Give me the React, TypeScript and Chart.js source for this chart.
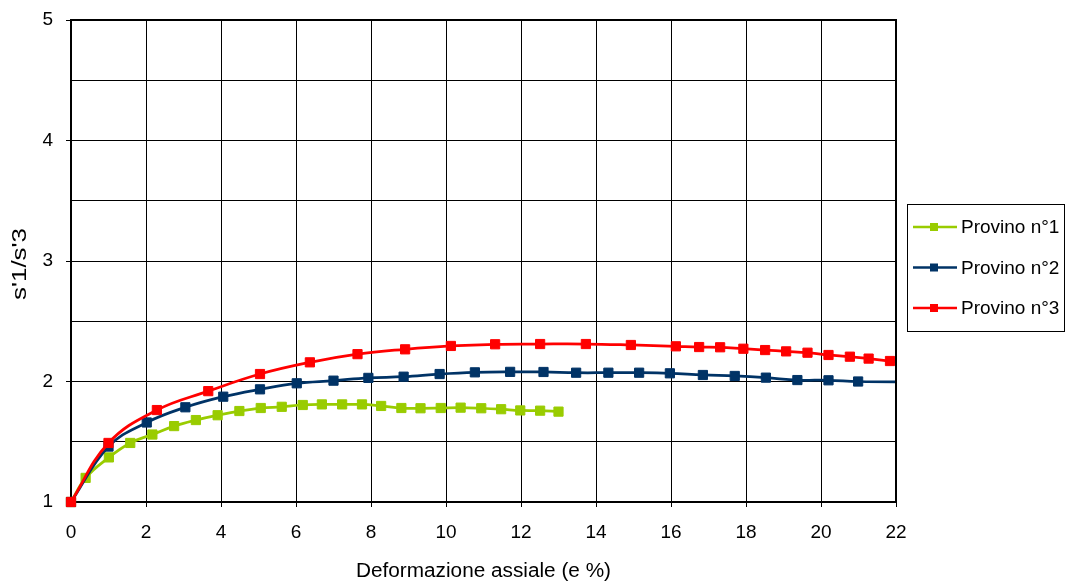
import React, { useEffect, useRef } from "react";
import { Chart, registerables } from "chart.js";

Chart.register(...registerables);

const seriesNames = ["Provino n°1", "Provino n°2", "Provino n°3"];
const seriesColors = ["#99CC00", "#003366", "#FF0000"];

const x1 = [0, 0.39, 1.01, 1.58, 2.17, 2.75, 3.33, 3.91, 4.49, 5.06, 5.62, 6.18, 6.69, 7.23, 7.76, 8.27, 8.81, 9.32, 9.86, 10.39, 10.94, 11.47, 11.98, 12.51, 13.0];
const y1 = [1.0, 1.2, 1.37, 1.49, 1.56, 1.63, 1.68, 1.72, 1.755, 1.78, 1.79, 1.805, 1.81, 1.81, 1.81, 1.797, 1.78, 1.778, 1.78, 1.783, 1.778, 1.77, 1.76, 1.758, 1.75];

const x2 = [0, 1.0, 2.02, 3.05, 4.06, 5.04, 6.02, 7.0, 7.93, 8.87, 9.83, 10.77, 11.71, 12.6, 13.47, 14.33, 15.15, 15.97, 16.85, 17.7, 18.53, 19.37, 20.2, 20.99, 22.6];
const y2 = [1.0, 1.46, 1.66, 1.786, 1.874, 1.935, 1.985, 2.007, 2.03, 2.04, 2.062, 2.076, 2.08, 2.079, 2.073, 2.073, 2.073, 2.068, 2.054, 2.046, 2.032, 2.012, 2.01, 2.0, 1.995];

const x3 = [0, 1.0, 2.29, 3.66, 5.04, 6.37, 7.64, 8.91, 10.13, 11.31, 12.51, 13.73, 14.93, 16.13, 16.75, 17.31, 17.93, 18.51, 19.07, 19.64, 20.2, 20.77, 21.27, 21.84, 22.4];
const y3 = [1.0, 1.49, 1.763, 1.92, 2.062, 2.159, 2.227, 2.267, 2.295, 2.309, 2.311, 2.311, 2.303, 2.292, 2.286, 2.284, 2.272, 2.261, 2.25, 2.239, 2.22, 2.206, 2.19, 2.17, 2.15];

const xTitle = "Deformazione assiale (e %)";
const yTitle = "s'1/s'3";

const FONT = "'Liberation Sans', Arial, sans-serif";

const zip = (xs: number[], ys: number[]) => xs.map((x, i) => ({ x, y: ys[i] }));

function stretchedText(ctx: any, text: string, cx: number, cy: number, size: number, targetLen: number, rotate: boolean) {
  ctx.save();
  ctx.font = `${size}px ${FONT}`;
  ctx.fillStyle = "#000";
  ctx.textAlign = "center";
  ctx.textBaseline = "middle";
  const w = ctx.measureText(text).width;
  const sx = targetLen / w;
  ctx.translate(cx, cy);
  if (rotate) ctx.rotate(-Math.PI / 2);
  ctx.scale(sx, 1);
  ctx.fillText(text, 0, 0);
  ctx.restore();
}

const borderAndLegend = {
  id: "borderAndLegend",
  afterDatasetsDraw(chart: any) {
    const { ctx, chartArea } = chart;
    const { left, right, top, bottom } = chartArea;
    ctx.save();
    ctx.strokeStyle = "#000";
    ctx.lineWidth = 2;
    ctx.beginPath();
    ctx.moveTo(left, top);
    ctx.lineTo(right, top);
    ctx.lineTo(right, bottom);
    ctx.stroke();
    ctx.restore();
  },
  afterDraw(chart: any) {
    const { ctx, chartArea } = chart;
    const cxPlot = (chartArea.left + chartArea.right) / 2;
    const cyPlot = (chartArea.top + chartArea.bottom) / 2;
    stretchedText(ctx, xTitle, cxPlot, 572, 19.5, 255, false);
    stretchedText(ctx, yTitle, 20.5, cyPlot + 3, 21, 72, true);

    ctx.save();
    ctx.strokeStyle = "#000";
    ctx.lineWidth = 1;
    ctx.strokeRect(907.5, 204.5, 157, 127);
    const rows = [227, 267.5, 308];
    chart.data.datasets.forEach((ds: any, i: number) => {
      const y = rows[i];
      ctx.strokeStyle = ds.borderColor;
      ctx.lineWidth = 2.5;
      ctx.beginPath();
      ctx.moveTo(913, y);
      ctx.lineTo(957, y);
      ctx.stroke();
      ctx.fillStyle = ds.borderColor;
      ctx.fillRect(930, y - 4, 8, 8);
      ctx.fillStyle = "#000";
      ctx.font = `19px ${FONT}`;
      ctx.textAlign = "left";
      ctx.textBaseline = "middle";
      ctx.fillText(ds.label, 961, y + 1);
    });
    ctx.restore();
  },
};

export default function App() {
  const ref = useRef<HTMLCanvasElement | null>(null);
  useEffect(() => {
    if (!ref.current) return;
    const xs = [x1, x2, x3];
    const ys = [y1, y2, y3];
    const chart = new Chart(ref.current, {
      type: "line",
      data: {
        datasets: seriesNames.map((name, i) => ({
          label: name,
          data: zip(xs[i], ys[i]),
          borderColor: seriesColors[i],
          backgroundColor: seriesColors[i],
          borderWidth: 2.75,
          pointStyle: "rect",
          pointRadius: 6.5,
          pointBorderWidth: 1,
          pointBackgroundColor: seriesColors[i],
          pointBorderColor: seriesColors[i],
          tension: 0.4,
          fill: false,
          clip: { left: 10, top: 10, right: 0, bottom: 10 },
          order: 3 - i,
        })),
      },
      options: {
        animation: false,
        responsive: false,
        events: [],
        layout: { padding: { left: 0, top: 20, right: 170, bottom: 0 } },
        plugins: { legend: { display: false }, tooltip: { enabled: false } },
        scales: {
          x: {
            type: "linear",
            min: 0,
            max: 22,
            afterFit: (s: any) => {
              s.height = 81;
              s.paddingLeft = 0;
              s.paddingRight = 0;
            },
            ticks: { stepSize: 2, color: "#000", font: { family: FONT, size: 19 }, padding: 14, maxRotation: 0 },
            grid: { color: "#000", lineWidth: 1, tickLength: 5, tickColor: "#000" },
            border: { color: "#000", width: 2 },
            title: { display: false },
          },
          y: {
            type: "linear",
            min: 1,
            max: 5,
            afterFit: (s: any) => {
              s.width = 71;
              s.paddingTop = 0;
              s.paddingBottom = 0;
            },
            ticks: {
              stepSize: 0.5,
              color: "#000",
              font: { family: FONT, size: 19 },
              padding: 13,
              callback: (v: any) => (Number.isInteger(v) ? String(v) : ""),
            },
            grid: {
              color: "#000",
              lineWidth: 1,
              tickLength: 5,
              tickColor: (c: any) => (c.tick && Number.isInteger(c.tick.value) ? "#000" : "rgba(0,0,0,0)"),
            },
            border: { color: "#000", width: 2 },
            title: { display: false },
          },
        },
      },
      plugins: [borderAndLegend],
    } as any);
    return () => chart.destroy();
  }, []);
  return (
    <div style={{ position: "absolute", left: 0, top: 0, width: 1066, height: 583, background: "#fff" }}>
      <canvas ref={ref} width={1066} height={583} style={{ display: "block" }} />
    </div>
  );
}
